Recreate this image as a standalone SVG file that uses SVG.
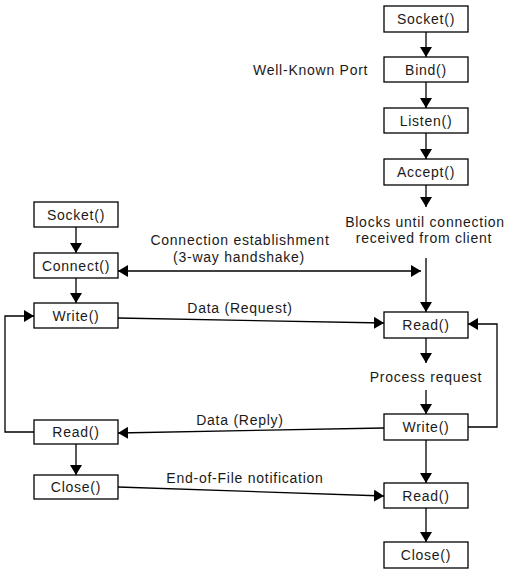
<svg xmlns="http://www.w3.org/2000/svg" width="505" height="571" viewBox="0 0 505 571">
<style>
.box{fill:#fff;stroke:#000;stroke-width:1.3}
text{font-family:"Liberation Sans",Arial,sans-serif;font-size:14px;fill:#1a1a1a;letter-spacing:0.75px}
.lbl{text-anchor:middle}
.c{fill:none;stroke:#000;stroke-width:1.3}
</style>
<defs>
<marker id="ah" viewBox="0 0 10 12" refX="10" refY="6" markerWidth="10" markerHeight="12" markerUnits="userSpaceOnUse" orient="auto-start-reverse">
<path d="M0,0 L10,6 L0,12 Z" fill="#000"/>
</marker>
</defs>
<rect width="505" height="571" fill="#fff"/>
<g id="connectors">
<line class="c" x1="426" y1="32" x2="426" y2="57" marker-end="url(#ah)"/>
<line class="c" x1="426" y1="82" x2="426" y2="108" marker-end="url(#ah)"/>
<line class="c" x1="426" y1="133" x2="426" y2="159" marker-end="url(#ah)"/>
<line class="c" x1="426" y1="185" x2="426" y2="207" marker-end="url(#ah)"/>
<line class="c" x1="426" y1="258" x2="426" y2="312" marker-end="url(#ah)"/>
<line class="c" x1="426" y1="338" x2="426" y2="363" marker-end="url(#ah)"/>
<line class="c" x1="426" y1="390" x2="426" y2="414" marker-end="url(#ah)"/>
<line class="c" x1="426" y1="440" x2="426" y2="483" marker-end="url(#ah)"/>
<line class="c" x1="426" y1="508" x2="426" y2="542" marker-end="url(#ah)"/>
<line class="c" x1="76" y1="227" x2="76" y2="253" marker-end="url(#ah)"/>
<line class="c" x1="76" y1="278" x2="76" y2="303" marker-end="url(#ah)"/>
<line class="c" x1="76" y1="444" x2="76" y2="475" marker-end="url(#ah)"/>
<line class="c" x1="118" y1="271" x2="421" y2="271" marker-start="url(#ah)" marker-end="url(#ah)"/>
<line class="c" x1="118" y1="318" x2="384" y2="323" marker-end="url(#ah)"/>
<path class="c" d="M34,432 H5 V316 H34" marker-end="url(#ah)"/>
<line class="c" x1="384" y1="428" x2="118" y2="433" marker-end="url(#ah)"/>
<path class="c" d="M468,427 H497 V324 H468" marker-end="url(#ah)"/>
<line class="c" x1="118" y1="487" x2="384" y2="496" marker-end="url(#ah)"/>
</g>
<g id="labels">
<text x="253" y="75">Well-Known Port</text>
<text class="lbl" x="240" y="245">Connection establishment</text>
<text class="lbl" x="239" y="262">(3-way handshake)</text>
<text class="lbl" x="425" y="227">Blocks until connection</text>
<text class="lbl" x="424" y="243">received from client</text>
<text class="lbl" x="240" y="313">Data (Request)</text>
<text class="lbl" x="426" y="382">Process request</text>
<text class="lbl" x="240" y="425">Data (Reply)</text>
<text class="lbl" x="245" y="483">End-of-File notification</text>
</g>
<g id="srv-socket"><rect class="box" x="384" y="6" width="84" height="26"/><text class="lbl" x="426" y="24">Socket()</text></g>
<g id="srv-bind"><rect class="box" x="384" y="57" width="84" height="25"/><text class="lbl" x="426" y="75">Bind()</text></g>
<g id="srv-listen"><rect class="box" x="384" y="108" width="84" height="25"/><text class="lbl" x="426" y="126">Listen()</text></g>
<g id="srv-accept"><rect class="box" x="384" y="159" width="84" height="26"/><text class="lbl" x="426" y="177">Accept()</text></g>
<g id="srv-read1"><rect class="box" x="384" y="312" width="84" height="26"/><text class="lbl" x="426" y="330">Read()</text></g>
<g id="srv-write"><rect class="box" x="384" y="414" width="84" height="26"/><text class="lbl" x="426" y="432">Write()</text></g>
<g id="srv-read2"><rect class="box" x="384" y="483" width="84" height="25"/><text class="lbl" x="426" y="501">Read()</text></g>
<g id="srv-close"><rect class="box" x="384" y="542" width="84" height="26"/><text class="lbl" x="426" y="560">Close()</text></g>
<g id="cli-socket"><rect class="box" x="34" y="202" width="84" height="25"/><text class="lbl" x="76" y="220">Socket()</text></g>
<g id="cli-connect"><rect class="box" x="34" y="253" width="84" height="25"/><text class="lbl" x="76" y="271">Connect()</text></g>
<g id="cli-write"><rect class="box" x="34" y="303" width="84" height="25"/><text class="lbl" x="76" y="321">Write()</text></g>
<g id="cli-read"><rect class="box" x="34" y="420" width="84" height="24"/><text class="lbl" x="76" y="437">Read()</text></g>
<g id="cli-close"><rect class="box" x="34" y="475" width="84" height="24"/><text class="lbl" x="76" y="492">Close()</text></g>
</svg>
